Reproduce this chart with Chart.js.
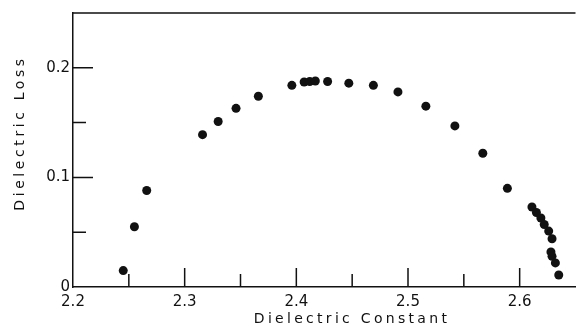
<!DOCTYPE html>
<html>
<head>
<meta charset="utf-8">
<script src="https://cdn.jsdelivr.net/npm/chart.js@4"></script>
<style>
  body { margin: 0; background: #fff; }
</style>
</head>
<body>
<canvas id="myChart" width="580" height="332"></canvas>
<script>
var dielectricConstant = [2.245, 2.255, 2.266, 2.316, 2.330, 2.346, 2.366, 2.396, 2.407, 2.412, 2.417,
  2.428, 2.447, 2.469, 2.491, 2.516, 2.542, 2.567, 2.589, 2.611, 2.615, 2.619, 2.622, 2.626,
  2.629, 2.628, 2.629, 2.632, 2.635];
var dielectricLoss = [0.015, 0.055, 0.088, 0.139, 0.151, 0.163, 0.174, 0.184, 0.187, 0.1875, 0.188,
  0.1875, 0.186, 0.184, 0.178, 0.165, 0.147, 0.122, 0.090, 0.073, 0.068, 0.063, 0.057, 0.051,
  0.044, 0.032, 0.028, 0.022, 0.011];

var xMajorTicks = [2.3, 2.4, 2.5, 2.6];
var xMinorTicks = [2.25, 2.35, 2.45, 2.55];
var yMajorTicks = [0.1, 0.2];
var yMinorTicks = [0.05, 0.15];
var xLabels = [2.2, 2.3, 2.4, 2.5, 2.6];
var yLabels = [0, 0.1, 0.2];

var ink = '#111';
var font = 'DejaVu Sans';

var points = dielectricConstant.map(function (x, i) {
  return { x: x, y: dielectricLoss[i] };
});

function keepTicks(list) {
  return function (scale) {
    scale.ticks = list.map(function (v) { return { value: v }; });
  };
}

// inward ticks, top frame line and spaced axis titles
var framePlugin = {
  id: 'frame',
  afterDraw: function (chart) {
    var ctx = chart.ctx;
    var area = chart.chartArea;
    var xs = chart.scales.x, ys = chart.scales.y;
    ctx.save();
    ctx.strokeStyle = ink;
    ctx.lineWidth = 1.5;
    ctx.beginPath();
    ctx.moveTo(area.left, area.top);
    ctx.lineTo(area.right, area.top);
    xMajorTicks.forEach(function (v) {
      var px = xs.getPixelForValue(v);
      ctx.moveTo(px, area.bottom); ctx.lineTo(px, area.bottom - 19);
    });
    xMinorTicks.forEach(function (v) {
      var px = xs.getPixelForValue(v);
      ctx.moveTo(px, area.bottom); ctx.lineTo(px, area.bottom - 13);
    });
    yMajorTicks.forEach(function (v) {
      var py = ys.getPixelForValue(v);
      ctx.moveTo(area.left, py); ctx.lineTo(area.left + 20, py);
    });
    yMinorTicks.forEach(function (v) {
      var py = ys.getPixelForValue(v);
      ctx.moveTo(area.left, py); ctx.lineTo(area.left + 13, py);
    });
    ctx.stroke();

    ctx.fillStyle = ink;
    ctx.font = '14px "' + font + '"';
    ctx.letterSpacing = '3.3px';
    ctx.textAlign = 'center';
    ctx.textBaseline = 'middle';
    ctx.fillText('Dielectric Constant', 352, 319);
    ctx.translate(20, 133);
    ctx.rotate(-Math.PI / 2);
    ctx.letterSpacing = '3.6px';
    ctx.fillText('Dielectric Loss', 0, 0);
    ctx.restore();
  }
};

new Chart(document.getElementById('myChart'), {
  type: 'scatter',
  data: {
    datasets: [{
      label: 'Dielectric Loss',
      data: points,
      backgroundColor: ink,
      borderWidth: 0,
      pointRadius: 4.5,
      pointHoverRadius: 4.5
    }]
  },
  options: {
    responsive: false,
    animation: false,
    layout: { padding: { top: 13, left: 0, right: 0, bottom: 0 } },
    plugins: {
      legend: { display: false },
      tooltip: { enabled: false }
    },
    scales: {
      x: {
        type: 'linear',
        min: 2.2,
        max: 2.65,
        afterBuildTicks: keepTicks(xLabels),
        afterFit: function (scale) { scale.height = 45; },
        grid: { drawOnChartArea: false, drawTicks: false },
        border: { color: ink, width: 1.5 },
        ticks: {
          padding: 6,
          color: ink,
          font: { family: font, size: 15 },
          callback: function (v) { return v.toFixed(1); }
        }
      },
      y: {
        min: 0,
        max: 0.25,
        afterBuildTicks: keepTicks(yLabels),
        afterFit: function (scale) { scale.width = 73; },
        grid: { drawOnChartArea: false, drawTicks: false },
        border: { color: ink, width: 1.5 },
        ticks: {
          padding: 3,
          color: ink,
          font: { family: font, size: 15 },
          callback: function (v) { return v === 0 ? '0' : v.toFixed(1); }
        }
      }
    }
  },
  plugins: [framePlugin]
});
</script>
</body>
</html>
